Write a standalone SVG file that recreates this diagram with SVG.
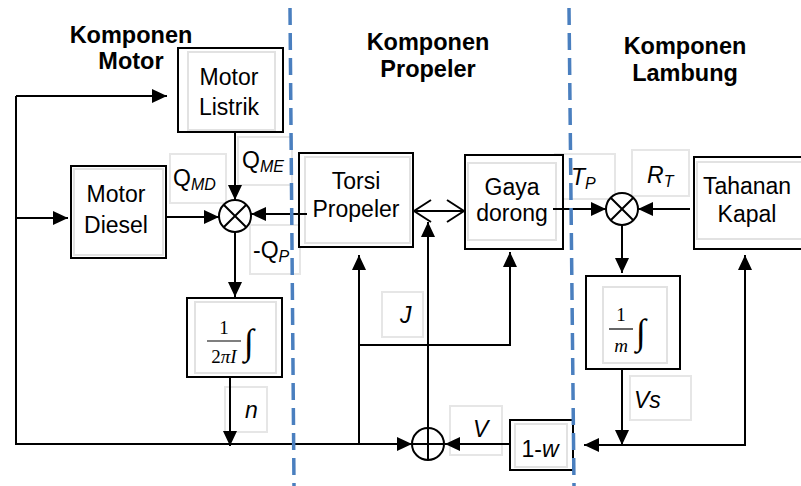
<svg xmlns="http://www.w3.org/2000/svg" width="801" height="486" viewBox="0 0 801 486">
<style>
.box{fill:#fff;stroke:#000;stroke-width:2}
.inner{fill:none;stroke:#e2e2e2;stroke-width:2}
.lbl{fill:none;stroke:#e6e6e6;stroke-width:2}
.t{font-family:"Liberation Sans",Arial,sans-serif;font-size:23px;fill:#000}
.title{font-family:"Liberation Sans",Arial,sans-serif;font-size:23.5px;font-weight:bold;fill:#000;text-anchor:middle}
.m{text-anchor:middle}
.i{font-style:italic}
.sub{font-size:16px;font-style:italic}
.ser{font-family:"Liberation Serif","DejaVu Serif",serif;fill:#000}
.ln{fill:none;stroke:#000;stroke-width:2}
.arr{marker-end:url(#ah)}
.sum{fill:#fff;stroke:#000;stroke-width:2}
.dash{stroke:#4a7fbf;stroke-width:3.5;stroke-dasharray:17 8;fill:none}
</style>
<defs>
<marker id="ah" viewBox="0 0 15 14" refX="15" refY="7" markerWidth="15" markerHeight="14" markerUnits="userSpaceOnUse" orient="auto">
<path d="M0,0 L15,7 L0,14 z" fill="#000"/>
</marker>
<marker id="open" viewBox="0 0 19 24" refX="18" refY="12" markerWidth="19" markerHeight="24" markerUnits="userSpaceOnUse" orient="auto-start-reverse">
<path d="M1,1 L18,12 L1,23" fill="none" stroke="#000" stroke-width="2"/>
</marker>
</defs>

<g id="labels">
<rect class="lbl" x="170" y="154" width="56" height="49"/>
<text class="t" x="173" y="186">Q<tspan class="sub" dy="4">MD</tspan></text>
<rect class="lbl" x="238" y="137" width="54" height="48"/>
<text class="t" x="242" y="168">Q<tspan class="sub" dy="4">ME</tspan></text>
<rect class="lbl" x="250" y="225" width="50" height="49"/>
<text class="t" x="253" y="258">-Q<tspan class="sub" dy="4">P</tspan></text>
<rect class="lbl" x="555" y="154" width="60" height="45"/>
<text class="t" x="571" y="185"><tspan class="i">T</tspan><tspan class="sub" dy="4">P</tspan></text>
<rect class="lbl" x="632" y="150" width="57" height="46"/>
<text class="t" x="647" y="183"><tspan class="i">R</tspan><tspan class="sub" dy="4">T</tspan></text>
<rect class="lbl" x="382" y="292" width="41" height="45"/>
<text class="t i" x="400" y="323">J</text>
<rect class="lbl" x="450" y="406" width="52" height="49"/>
<text class="t i" x="473" y="437">V</text>
<rect class="lbl" x="225" y="387" width="42" height="45"/>
<text class="t i" x="245" y="418">n</text>
<rect class="lbl" x="630" y="376" width="61" height="44"/>
<text class="t i" x="634" y="408">Vs</text>
</g>

<g id="motor-listrik">
<rect class="box" x="178" y="48" width="105" height="84"/>
<rect class="inner" x="188" y="52" width="87" height="78"/>
<text class="t m" x="229" y="85">Motor</text>
<text class="t m" x="229" y="115">Listrik</text>
</g>
<g id="motor-diesel">
<rect class="box" x="71" y="166" width="95" height="92"/>
<rect class="inner" x="74" y="169" width="89" height="86"/>
<text class="t m" x="116" y="202">Motor</text>
<text class="t m" x="116" y="233">Diesel</text>
</g>
<g id="torsi-propeler">
<rect class="box" x="299" y="153" width="114" height="94"/>
<rect class="inner" x="305" y="157" width="105" height="86"/>
<text class="t m" x="356" y="189">Torsi</text>
<text class="t m" x="356" y="217">Propeler</text>
</g>
<g id="gaya-dorong">
<rect class="box" x="465" y="155" width="98" height="94"/>
<rect class="inner" x="468" y="163" width="88" height="77"/>
<text class="t m" x="512" y="195">Gaya</text>
<text class="t m" x="512" y="221">dorong</text>
</g>
<g id="tahanan-kapal">
<rect class="box" x="694" y="157" width="115" height="92"/>
<rect class="inner" x="697" y="162" width="110" height="77"/>
<text class="t m" x="747" y="194">Tahanan</text>
<text class="t m" x="747" y="222">Kapal</text>
</g>
<g id="integrator-motor">
<rect class="box" x="187" y="298" width="95" height="79"/>
<rect class="inner" x="195" y="302" width="81" height="71"/>
<text class="ser m" x="224" y="334" font-size="19">1</text>
<line x1="207" y1="341" x2="241" y2="341" stroke="#000" stroke-width="1.2"/>
<text class="ser m" x="224" y="363" font-size="19">2<tspan font-style="italic">πI</tspan></text>
<text class="ser" x="244" y="354" font-size="36">∫</text>
</g>
<g id="integrator-lambung">
<rect class="box" x="586" y="276" width="94" height="93"/>
<rect class="inner" x="603" y="287" width="64" height="76"/>
<text class="ser m" x="621" y="321" font-size="19">1</text>
<line x1="609" y1="329" x2="633" y2="329" stroke="#000" stroke-width="1.2"/>
<text class="ser m i" x="621" y="352" font-size="19">m</text>
<text class="ser" x="636" y="344" font-size="36">∫</text>
</g>
<g id="gain-1w">
<rect class="box" x="510" y="420" width="63" height="50"/>
<rect class="inner" x="515" y="424" width="52" height="43"/>
<text class="t m" x="540" y="457">1-<tspan class="i">w</tspan></text>
</g>
<g id="sum-motor">
<circle class="sum" cx="235" cy="216" r="16"/>
<path class="ln" d="M223.7,204.7 L246.3,227.3 M246.3,204.7 L223.7,227.3"/>
</g>
<g id="sum-lambung">
<circle class="sum" cx="622" cy="209" r="16"/>
<path class="ln" d="M610.7,197.7 L633.3,220.3 M633.3,197.7 L610.7,220.3"/>
</g>
<g id="sum-v">
<circle class="sum" cx="428" cy="444" r="16"/>
<path class="ln" d="M428,428 L428,460 M412,444 L444,444"/>
</g>

<g id="connectors">
<line class="ln arr" x1="235" y1="132" x2="235" y2="200"/>
<line class="ln arr" x1="166" y1="217" x2="219" y2="217"/>
<line class="ln arr" x1="307" y1="214" x2="251" y2="214"/>
<line class="ln arr" x1="235" y1="232" x2="235" y2="297"/>
<line class="ln arr" x1="230" y1="377" x2="230" y2="446"/>
<path class="ln arr" d="M16,96 L16,444 L412,444"/>
<line class="ln arr" x1="16" y1="96" x2="167" y2="96"/>
<line class="ln arr" x1="16" y1="218" x2="68" y2="218"/>
<line class="ln arr" x1="359" y1="444" x2="359" y2="255"/>
<path class="ln arr" d="M359,345 L510,345 L510,252"/>
<line class="ln arr" x1="428" y1="428" x2="428" y2="222"/>
<line class="ln" x1="414" y1="211" x2="464" y2="211" marker-start="url(#open)" marker-end="url(#open)"/>
<line class="ln arr" x1="553" y1="209" x2="606" y2="209"/>
<line class="ln arr" x1="690" y1="209" x2="638" y2="209"/>
<line class="ln arr" x1="622" y1="225" x2="622" y2="273"/>
<line class="ln arr" x1="622" y1="369" x2="622" y2="445"/>
<line class="ln arr" x1="745" y1="445" x2="745" y2="255"/>
<line class="ln arr" x1="746" y1="445" x2="584" y2="445"/>
<line class="ln arr" x1="510" y1="444" x2="445" y2="444"/>
</g>

<g id="dividers">
<line class="dash" x1="290" y1="8" x2="294" y2="486"/>
<line class="dash" x1="569" y1="8" x2="574" y2="486"/>
</g>

<g id="titles">
<text class="title" x="131" y="43">Komponen</text>
<text class="title" x="131" y="69">Motor</text>
<text class="title" x="428" y="50">Komponen</text>
<text class="title" x="428" y="77">Propeler</text>
<text class="title" x="685" y="54">Komponen</text>
<text class="title" x="685" y="81">Lambung</text>
</g>
</svg>
